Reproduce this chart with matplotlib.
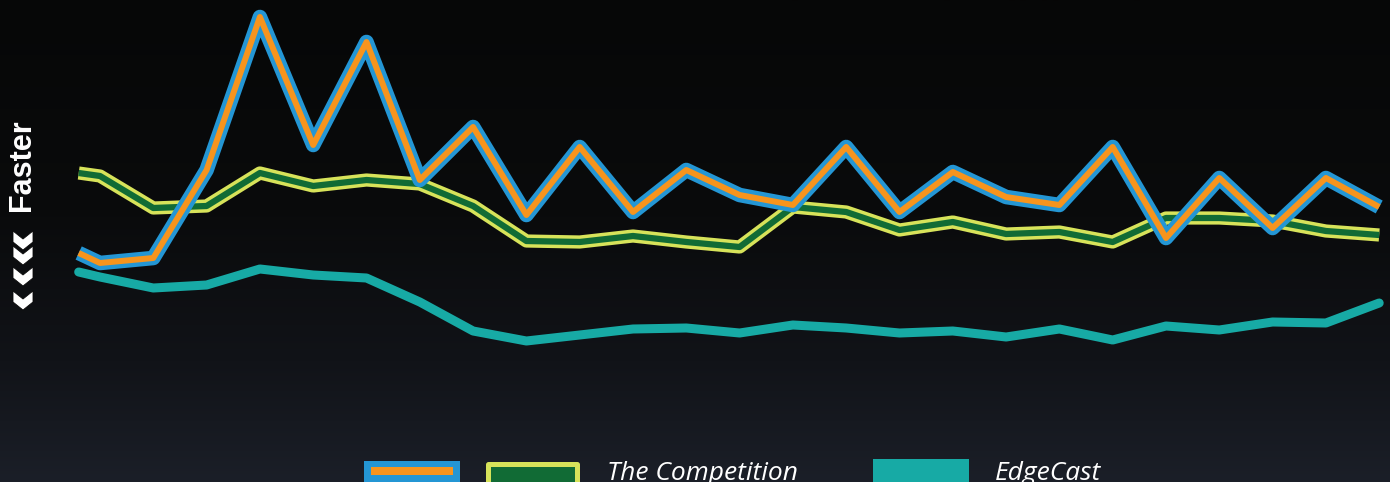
import numpy as np
import matplotlib.pyplot as plt
from matplotlib.patches import Rectangle, Polygon
from matplotlib.colors import LinearSegmentedColormap

# sample days (first sample sits a little before day 1)
days = [0.6] + list(range(1, 26))

# response times, higher = slower
competition_a = [229, 219, 224, 312, 465, 337, 440, 302, 355, 267, 335, 270, 312,
                 287, 277, 335, 270, 310, 285, 277, 335, 244, 304, 254, 304, 275]
competition_b = [309, 306, 274, 276, 309, 296, 302, 298, 276, 241, 240, 246, 240,
                 235, 275, 270, 252, 260, 248, 250, 240, 264, 264, 261, 251, 247]
edgecast = [210, 205, 194, 197, 213, 207, 204, 180, 151, 141, 147, 153, 154,
            149, 157, 154, 149, 151, 145, 153, 142, 156, 152, 160, 159, 179]

legend_label = "The Competition"
edgecast_label = "EdgeCast"

BLUE = "#2496d4"
ORANGE = "#f7941d"
YELLOW = "#d7e35a"
GREEN = "#116b35"
TEAL = "#17aaa5"

W, H = 1390, 482
fig = plt.figure(figsize=(W / 100, H / 100), dpi=100)

# background gradient
bg = fig.add_axes([0, 0, 1, 1])
cmap = LinearSegmentedColormap.from_list(
    "bg", [(0, "#060707"), (0.45, "#0a0b0c"), (0.75, "#111318"), (1, "#1b1f28")])
grad = np.linspace(0, 1, 256).reshape(-1, 1)
bg.imshow(grad, aspect="auto", cmap=cmap, extent=[0, 1, 0, 1], origin="upper")
bg.axis("off")

ax = fig.add_axes([0, 0, 1, 1])
ax.patch.set_alpha(0)
ax.axis("off")

ax.plot(days, edgecast, color=TEAL, lw=6.5, solid_capstyle="round",
        solid_joinstyle="round", zorder=2)
ax.plot(days, competition_b, color=YELLOW, lw=9.5, solid_capstyle="butt",
        solid_joinstyle="round", zorder=3)
ax.plot(days, competition_b, color=GREEN, lw=4.5, solid_capstyle="butt",
        solid_joinstyle="round", zorder=4)
ax.plot(days, competition_a, color=BLUE, lw=10.5, solid_capstyle="butt",
        solid_joinstyle="round", zorder=5)
ax.plot(days, competition_a, color=ORANGE, lw=4.3, solid_capstyle="butt",
        solid_joinstyle="round", zorder=6)

ax.set_xlim(1 - 100 / 53.3, 1 + 1290 / 53.3)
ax.set_ylim(0, 482)


def px_rect(x0, y0, x1, y1, **kw):
    # rectangle given in pixel coords measured from top-left
    r = Rectangle((x0 / W, 1 - y1 / H), (x1 - x0) / W, (y1 - y0) / H,
                  transform=fig.transFigure, **kw)
    fig.add_artist(r)


# legend
px_rect(364, 460.5, 460, 490, facecolor=BLUE, edgecolor="none")
px_rect(371, 467, 453, 475, facecolor=ORANGE, edgecolor="none")
px_rect(487.5, 463.5, 576.5, 490, facecolor=GREEN, edgecolor=YELLOW, lw=3.6,
        joinstyle="round")
px_rect(873, 459, 969, 490, facecolor=TEAL, edgecolor="none")

fig.text(607 / W, 1 - 480 / H, legend_label, color="white", fontsize=19,
         style="italic", family=["Open Sans", "DejaVu Sans"], ha="left", va="baseline")
fig.text(995 / W, 1 - 480 / H, edgecast_label, color="white", fontsize=19,
         style="italic", family=["Open Sans", "DejaVu Sans"], ha="left", va="baseline")

# "Faster" label with chevrons
fig.text(22 / W, 1 - 165 / H, "Faster", color="white", fontsize=22, fontweight="bold",
         family=["Liberation Sans", "DejaVu Sans"], rotation=90, ha="center", va="center")

for top in [231, 246, 267, 291]:
    cx, w, d, h = 23, 20, 8, 19
    pts = [(cx - w / 2, top), (cx, top + d), (cx + w / 2, top),
           (cx + w / 2, top + h - d), (cx, top + h), (cx - w / 2, top + h - d)]
    pts = [(x / W, 1 - y / H) for x, y in pts]
    fig.add_artist(Polygon(pts, closed=True, facecolor="white", edgecolor="#0a0a0a",
                           lw=0.6, transform=fig.transFigure))

fig.savefig("out.png", dpi=100)
